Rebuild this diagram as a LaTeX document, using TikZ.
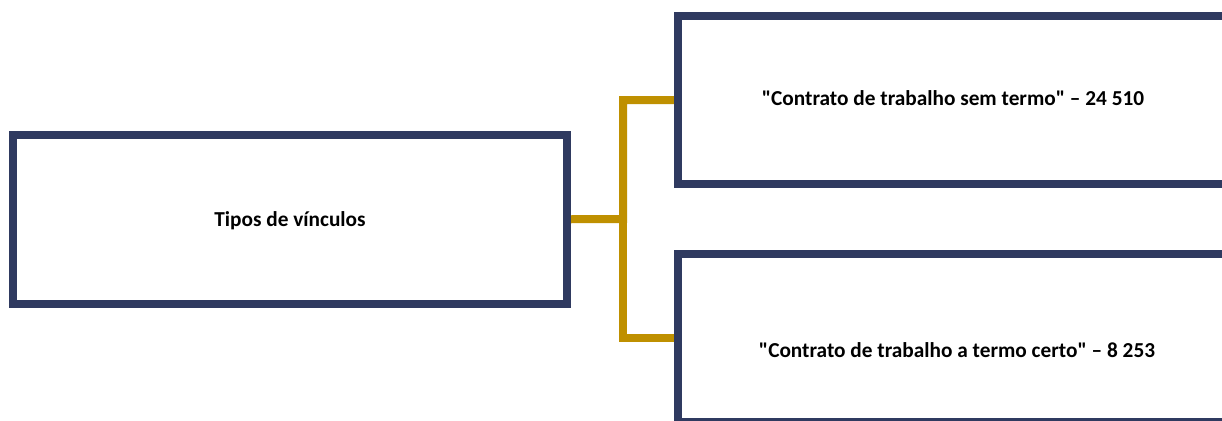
\documentclass[tikz,border=0pt]{standalone}
\usepackage{fontspec}
\newfontfamily\cfont{Carlito}
\usetikzlibrary{backgrounds}
\definecolor{navy}{RGB}{47,58,96}
\definecolor{gold}{RGB}{191,144,0}
\begin{document}
\begin{tikzpicture}[x=1pt,y=-1pt,
  box/.style={draw=navy,line width=8pt,rectangle,minimum width=#1,inner sep=0pt},
  link/.style={draw=gold,line width=8pt},
  lbl/.style={font=\cfont\fontsize{21.3}{25}\selectfont\bfseries,anchor=base,inner sep=0pt}]
\useasboundingbox (0,0) rectangle (1222,420);
\node[box=554pt,minimum height=168.5pt] (tipos) at (290,219.25) {};
\node[box=572pt,minimum height=168pt] (sem) at (964,100) {};
\node[box=572pt,minimum height=168pt] (certo) at (964,338) {};
\coordinate (j) at (623,219);
\begin{pgfonlayer}{background}
\fill[white] (0,0) rectangle (1222,420);
\draw[link] (tipos.east) -- (j) |- (sem.west);
\draw[link] (j) |- (certo.west);
\end{pgfonlayer}
\node[lbl] (t1) at (290,226) {Tipos de vínculos};
\node[lbl] (t2) at (953,105) {"Contrato de trabalho sem termo" – 24 510};
\node[lbl] (t3) at (957,357) {"Contrato de trabalho a termo certo" – 8 253};
\end{tikzpicture}
\end{document}
